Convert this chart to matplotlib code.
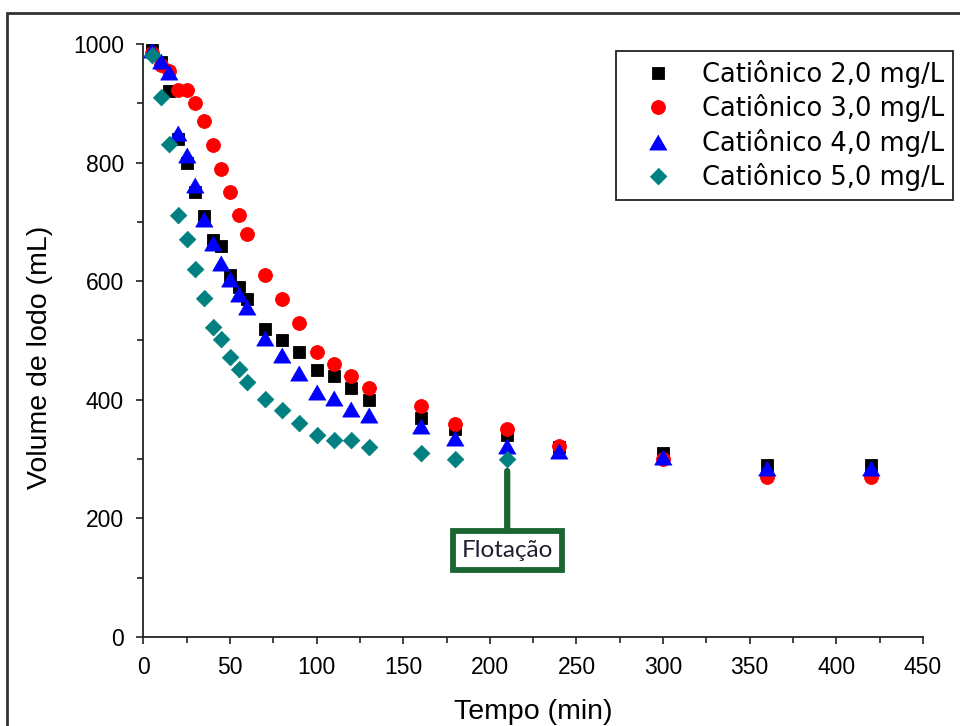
import matplotlib
matplotlib.use('Agg')
import matplotlib.pyplot as plt
from matplotlib.patches import Rectangle

# Tempo de coleta (min) e volume de lodo (mL) para cada dosagem
tempo = [5, 10, 15, 20, 25, 30, 35, 40, 45, 50, 55, 60, 70, 80, 90, 100,
         110, 120, 130, 160, 180, 210, 240, 300, 360, 420]
vol_2 = [990, 970, 920, 840, 800, 750, 710, 670, 660, 610, 590, 570, 520,
         500, 480, 450, 440, 420, 400, 370, 350, 340, 320, 310, 290, 290]
vol_3 = [985, 965, 955, 922, 922, 900, 870, 830, 790, 750, 712, 680, 610,
         570, 530, 480, 460, 440, 420, 390, 360, 350, 322, 300, 270, 270]
vol_4 = [990, 972, 952, 850, 813, 762, 705, 665, 630, 603, 578, 556, 505,
         475, 445, 413, 403, 385, 375, 355, 335, 322, 314, 303, 285, 285]
# 5,0 mg/L só foi acompanhado até a flotação (210 min)
tempo_5 = tempo[:22]
vol_5 = [982, 911, 832, 712, 671, 621, 572, 522, 502, 473, 452, 430, 401,
         382, 361, 341, 332, 332, 321, 311, 301, 301]

rotulos = ['Catiônico 2,0 mg/L', 'Catiônico 3,0 mg/L',
           'Catiônico 4,0 mg/L', 'Catiônico 5,0 mg/L']

tri = [(0, 1), (-1.15, -1), (1.15, -1)]
losango = [(0, 1), (1, 0), (0, -1), (-1, 0)]

fig = plt.figure(figsize=(9.6, 7.26), dpi=100)
ax = fig.add_axes([0.1494, 0.1226, 0.812, 0.8168])

estilo = dict(linestyle='none', markeredgewidth=0.6)
ax.plot(tempo, vol_2, marker='s', ms=9.0, color='black', mec='black', label=rotulos[0], **estilo)
ax.plot(tempo, vol_3, marker='o', ms=10, color='#ff0000', mec='#ff0000', label=rotulos[1], **estilo)
ax.plot(tempo, vol_4, marker=tri, ms=12.5, color='#0000ff', mec='#0000ff', label=rotulos[2], **estilo)
ax.plot(tempo_5, vol_5, marker=losango, ms=12, color='#008080', mec='#008080', label=rotulos[3], **estilo)

ax.set_xlim(0, 450)
ax.set_ylim(0, 1000)
ax.set_xticks(range(0, 451, 50))
ax.set_xticks(range(25, 450, 50), minor=True)
ax.set_yticks(range(0, 1001, 200))
ax.set_yticks(range(100, 1000, 200), minor=True)

for lado in ['top', 'right']:
    ax.spines[lado].set_visible(False)
for lado in ['left', 'bottom']:
    ax.spines[lado].set_color('#222222')
    ax.spines[lado].set_linewidth(1.3)
ax.tick_params(which='major', direction='out', length=5, width=1.2, color='#222222',
               labelsize=16.5, pad=9)
ax.tick_params(which='minor', direction='out', length=4, width=1.2, color='#222222')
for lbl in ax.get_xticklabels() + ax.get_yticklabels():
    lbl.set_family('Liberation Sans')

ax.set_xlabel('Tempo (min)', fontsize=20.5, family='Liberation Sans', va='center')
ax.set_ylabel('Volume de lodo (mL)', fontsize=20.5, family='Liberation Sans', va='center')
ax.xaxis.set_label_coords(0.5, -0.1265)
ax.yaxis.set_label_coords(-0.1326, 0.471)

leg = ax.legend(loc='upper right', bbox_to_anchor=(953 / 960, 1 - 51 / 726),
                bbox_transform=fig.transFigure, borderaxespad=0,
                prop={'family': 'DejaVu Sans', 'size': 18.5},
                handlelength=2.6, handletextpad=0.4, labelspacing=0.25,
                borderpad=0.35, fancybox=False, framealpha=1, numpoints=1)
leg.get_frame().set_edgecolor('#222222')
leg.get_frame().set_linewidth(1.3)

# Marca do momento em que o lodo flotou
verde = '#1b6532'
ax.annotate('Flotação', xy=(tempo_5[-1], vol_5[-1]), xytext=(tempo_5[-1], 146),
            ha='center', va='center', fontsize=17.5, family='Lato', color='#1e1e2e',
            bbox=dict(boxstyle='square,pad=0.36', fc='white', ec=verde, lw=4.2),
            arrowprops=dict(arrowstyle='-', color=verde, lw=4.5, shrinkA=0, shrinkB=9,
                            capstyle='round'))

# moldura externa
fig.add_artist(Rectangle((7 / 960, -0.05), 1.1, (726 - 13) / 726 + 0.05,
                         transform=fig.transFigure, fill=False,
                         ec='#333333', lw=2, clip_on=False))

fig.savefig('out.png', dpi=100)
